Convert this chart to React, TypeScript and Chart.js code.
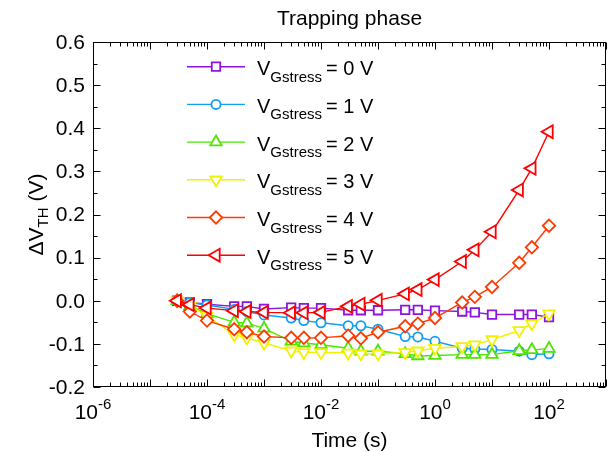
import React, { useEffect, useRef } from 'react';
import { Chart, registerables } from 'chart.js';

Chart.register(...registerables);

// ---- data ----
const times = [3e-5, 5e-5, 1e-4, 3e-4, 5e-4, 1e-3, 3e-3, 5e-3, 1e-2, 3e-2, 5e-2, 0.1, 0.3, 0.5, 1, 3, 5, 10, 30, 50, 100];
const v0 = [0, -0.004, -0.008, -0.013, -0.013, -0.019, -0.016, -0.017, -0.017, -0.022, -0.022, -0.022, -0.021, -0.021, -0.023, -0.025, -0.027, -0.032, -0.032, -0.032, -0.038];
const v1 = [0, -0.004, -0.01, -0.02, -0.025, -0.033, -0.04, -0.046, -0.051, -0.058, -0.058, -0.066, -0.083, -0.084, -0.094, -0.11, -0.112, -0.113, -0.117, -0.125, -0.123];
const v2 = [0, -0.012, -0.03, -0.05, -0.052, -0.064, -0.094, -0.098, -0.102, -0.11, -0.117, -0.117, -0.123, -0.128, -0.127, -0.125, -0.125, -0.125, -0.116, -0.114, -0.111];
const v3 = [0, -0.012, -0.035, -0.079, -0.086, -0.098, -0.116, -0.12, -0.12, -0.121, -0.123, -0.123, -0.12, -0.116, -0.11, -0.106, -0.102, -0.09, -0.069, -0.053, -0.03];
const v4 = [0, -0.025, -0.046, -0.066, -0.073, -0.083, -0.086, -0.086, -0.086, -0.081, -0.087, -0.073, -0.059, -0.053, -0.04, -0.004, 0.009, 0.032, 0.088, 0.124, 0.174];
const v5 = [0, -0.009, -0.017, -0.023, -0.025, -0.027, -0.028, -0.028, -0.027, -0.013, -0.008, 0.001, 0.016, 0.026, 0.049, 0.091, 0.118, 0.16, 0.257, 0.307, 0.392];

const seriesValues = [v0, v1, v2, v3, v4, v5];
const seriesVoltages = ['0 V', '1 V', '2 V', '3 V', '4 V', '5 V'];
const seriesColors = ['#8c14dc', '#139ff0', '#4de600', '#f2f200', '#ff3a00', '#ff0000'];
const seriesStyles = ['rect', 'circle', 'triangle', 'triangle', 'rectRot', 'triangle'];
const seriesRotations = [0, 0, 0, 180, 0, 270];
const seriesRadii = [6, 4.6, 6.6, 6.6, 6.2, 7.4];

const yTickValues = [-0.2, -0.1, 0.0, 0.1, 0.2, 0.3, 0.4, 0.5, 0.6];
const xTickExponents = [-6, -4, -2, 0, 2];

const chartTitle = 'Trapping phase';
const xTitle = 'Time (s)';

const FONT = '"Liberation Sans", Arial, Helvetica, sans-serif';
const BIG = 21;
const SMALL = 15;

function drawMarker(ctx: CanvasRenderingContext2D, style: string, x: number, y: number, r: number, rot: number, color: string, bw: number) {
  ctx.save();
  ctx.beginPath();
  if (style === 'circle') {
    ctx.arc(x, y, r, 0, Math.PI * 2);
  } else if (style === 'rect') {
    const s = r * Math.SQRT1_2;
    ctx.rect(x - s, y - s, 2 * s, 2 * s);
  } else if (style === 'rectRot') {
    ctx.moveTo(x - r, y);
    ctx.lineTo(x, y - r);
    ctx.lineTo(x + r, y);
    ctx.lineTo(x, y + r);
    ctx.closePath();
  } else {
    let rad = (rot * Math.PI) / 180;
    ctx.moveTo(x + Math.sin(rad) * r, y - Math.cos(rad) * r);
    rad += (2 * Math.PI) / 3;
    ctx.lineTo(x + Math.sin(rad) * r, y - Math.cos(rad) * r);
    rad += (2 * Math.PI) / 3;
    ctx.lineTo(x + Math.sin(rad) * r, y - Math.cos(rad) * r);
    ctx.closePath();
  }
  ctx.fillStyle = '#ffffff';
  ctx.fill();
  ctx.strokeStyle = color;
  ctx.lineWidth = bw;
  ctx.stroke();
  ctx.restore();
}

const decorPlugin = {
  id: 'decor',
  afterDraw(chart: any) {
    const ctx: CanvasRenderingContext2D = chart.ctx;
    const { left, right, top, bottom } = chart.chartArea;
    const xs = chart.scales.x;
    const ys = chart.scales.y;
    ctx.save();
    ctx.strokeStyle = '#000';
    ctx.lineWidth = 1;
    const L = Math.round(left) + 0.5;
    const R = Math.round(right) - 0.5;
    const T = Math.round(top) + 0.5;
    const B = Math.round(bottom) - 0.5;
    ctx.strokeRect(L, T, R - L, B - T);
    ctx.beginPath();
    for (let e = -6; e <= 3; e++) {
      const xp = Math.round(xs.getPixelForValue(Math.pow(10, e))) + 0.5;
      ctx.moveTo(xp, B); ctx.lineTo(xp, B - 7);
      ctx.moveTo(xp, T); ctx.lineTo(xp, T + 7);
      if (e < 3) {
        for (let k = 2; k <= 9; k++) {
          const xm = Math.round(xs.getPixelForValue(k * Math.pow(10, e))) + 0.5;
          ctx.moveTo(xm, B); ctx.lineTo(xm, B - 4);
          ctx.moveTo(xm, T); ctx.lineTo(xm, T + 4);
        }
      }
    }
    for (let i = 0; i <= 16; i++) {
      const v = -0.2 + i * 0.05;
      const yp = Math.round(ys.getPixelForValue(v)) + 0.5;
      const len = i % 2 === 0 ? 7 : 4;
      ctx.moveTo(L, yp); ctx.lineTo(L + len, yp);
      ctx.moveTo(R, yp); ctx.lineTo(R - len, yp);
    }
    ctx.stroke();

    ctx.fillStyle = '#000';
    ctx.font = `${BIG}px ${FONT}`;
    ctx.textAlign = 'right';
    ctx.textBaseline = 'middle';
    yTickValues.forEach((v) => {
      ctx.fillText(v.toFixed(1), left - 8, ys.getPixelForValue(v) + 1);
    });
    ctx.textBaseline = 'alphabetic';
    ctx.textAlign = 'left';
    xTickExponents.forEach((e) => {
      const xp = xs.getPixelForValue(Math.pow(10, e));
      ctx.font = `${BIG}px ${FONT}`;
      const w1 = ctx.measureText('10').width;
      const sup = String(e);
      ctx.font = `${SMALL}px ${FONT}`;
      const w2 = ctx.measureText(sup).width;
      const x0 = xp - (w1 + w2) / 2;
      ctx.font = `${BIG}px ${FONT}`;
      ctx.fillText('10', x0, 419);
      ctx.font = `${SMALL}px ${FONT}`;
      ctx.fillText(sup, x0 + w1, 409);
    });
    ctx.font = `${BIG}px ${FONT}`;
    ctx.textAlign = 'center';
    ctx.fillText(xTitle, (left + right) / 2, 447);
    ctx.fillText(chartTitle, (left + right) / 2, 25);

    ctx.save();
    ctx.translate(43, (top + bottom) / 2);
    ctx.rotate(-Math.PI / 2);
    ctx.textAlign = 'left';
    ctx.font = `${BIG}px ${FONT}`;
    const p1 = '\u0394V';
    const p2 = 'TH';
    const p3 = ' (V)';
    const a = ctx.measureText(p1).width;
    const c = ctx.measureText(p3).width;
    ctx.font = `${SMALL}px ${FONT}`;
    const b = ctx.measureText(p2).width;
    let cx = -(a + b + c) / 2;
    ctx.font = `${BIG}px ${FONT}`;
    ctx.fillText(p1, cx, 0);
    cx += a;
    ctx.font = `${SMALL}px ${FONT}`;
    ctx.fillText(p2, cx, 5);
    cx += b;
    ctx.font = `${BIG}px ${FONT}`;
    ctx.fillText(p3, cx, 0);
    ctx.restore();

    const rowY0 = 66.7;
    const rowStep = 37.7;
    seriesColors.forEach((col, i) => {
      const yl = rowY0 + i * rowStep;
      ctx.beginPath();
      ctx.strokeStyle = col;
      ctx.lineWidth = 1.4;
      ctx.moveTo(187, yl);
      ctx.lineTo(245, yl);
      ctx.stroke();
      drawMarker(ctx, seriesStyles[i], 216, yl, seriesRadii[i], seriesRotations[i], col, 1.8);
      ctx.fillStyle = '#000';
      ctx.textAlign = 'left';
      ctx.font = `20px ${FONT}`;
      let tx = 257;
      ctx.fillText('V', tx, yl + 8.5);
      tx += ctx.measureText('V').width;
      ctx.font = `${SMALL}px ${FONT}`;
      ctx.fillText('Gstress', tx, yl + 15);
      tx += ctx.measureText('Gstress').width + 4;
      ctx.font = `20px ${FONT}`;
      ctx.fillText('= ' + seriesVoltages[i], tx, yl + 8.5);
    });
    ctx.restore();
  },
};

export default function App() {
  const ref = useRef<HTMLCanvasElement | null>(null);
  useEffect(() => {
    if (!ref.current) return;
    const datasets = seriesValues.map((vals, i) => ({
      label: 'VGstress = ' + seriesVoltages[i],
      data: times.map((t, j) => ({ x: t, y: vals[j] })),
      borderColor: seriesColors[i],
      backgroundColor: '#ffffff',
      borderWidth: 1.4,
      pointStyle: seriesStyles[i] as any,
      pointRotation: seriesRotations[i],
      pointRadius: seriesRadii[i],
      pointBorderWidth: 1.8,
      pointBorderColor: seriesColors[i],
      pointBackgroundColor: '#ffffff',
      tension: 0,
      order: 5 - i,
      clip: false as any,
    }));
    const chart = new Chart(ref.current, {
      type: 'line',
      data: { datasets },
      options: {
        responsive: false,
        animation: false,
        devicePixelRatio: 1,
        layout: { autoPadding: false, padding: { left: 93, right: 3, top: 42, bottom: 65 } },
        plugins: { legend: { display: false }, tooltip: { enabled: false }, title: { display: false } },
        scales: {
          x: { type: 'logarithmic', min: 1e-6, max: 1e3, display: false },
          y: { type: 'linear', min: -0.2, max: 0.6, display: false },
        },
      },
      plugins: [decorPlugin],
    });
    return () => chart.destroy();
  }, []);
  return (
    <div style={{ position: 'fixed', left: 0, top: 0, width: 609, height: 452, background: '#fff' }}>
      <canvas ref={ref} width={609} height={452} style={{ display: 'block' }} />
    </div>
  );
}
